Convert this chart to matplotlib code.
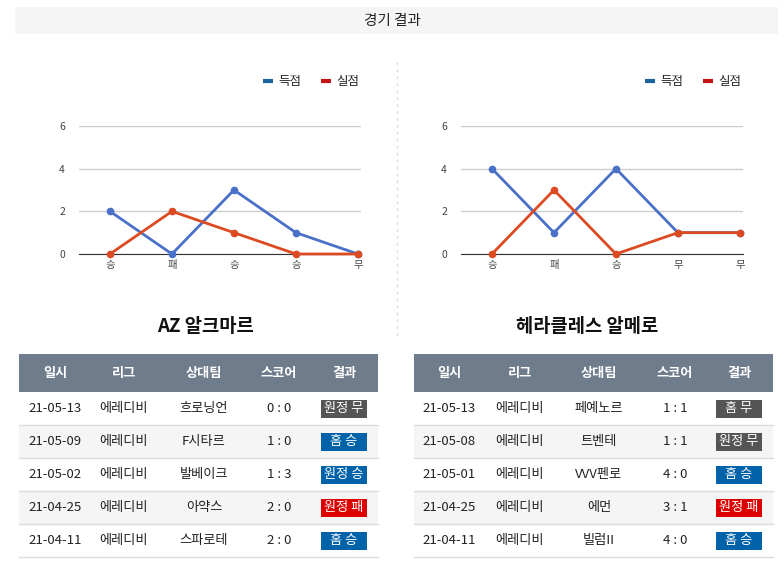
import matplotlib.pyplot as plt
from matplotlib.patches import Rectangle

plt.rcParams["font.family"] = ["Noto Sans CJK KR", "DejaVu Sans"]

W, H = 784, 571

SERIES_NAMES = ["득점", "실점"]
LINE_COLORS = ["#4a70c8", "#dc4a22"]
LEGEND_COLORS = ["#1a64a0", "#c41414"]

LEFT_TEAM = "AZ 알크마르"
LEFT_CATS = ["승", "패", "승", "승", "무"]
LEFT_SCORED = [2, 0, 3, 1, 0]
LEFT_CONCEDED = [0, 2, 1, 0, 0]

RIGHT_TEAM = "헤라클레스 알메로"
RIGHT_CATS = ["승", "패", "승", "무", "무"]
RIGHT_SCORED = [4, 1, 4, 1, 1]
RIGHT_CONCEDED = [0, 3, 0, 1, 1]

COLUMNS = ["일시", "리그", "상대팀", "스코어", "결과"]

LEFT_DATES = ["21-05-13", "21-05-09", "21-05-02", "21-04-25", "21-04-11"]
LEFT_LEAGUE = ["에레디비"] * 5
LEFT_OPP = ["흐로닝언", "F시타르", "발베이크", "아약스", "스파로테"]
LEFT_SCORE = ["0 : 0", "1 : 0", "1 : 3", "2 : 0", "2 : 0"]
LEFT_RESULT = ["원정 무", "홈 승", "원정 승", "원정 패", "홈 승"]

RIGHT_DATES = ["21-05-13", "21-05-08", "21-05-01", "21-04-25", "21-04-11"]
RIGHT_LEAGUE = ["에레디비"] * 5
RIGHT_OPP = ["페예노르", "트벤테", "VVV펜로", "에먼", "빌럼II"]
RIGHT_SCORE = ["1 : 1", "1 : 1", "4 : 0", "3 : 1", "4 : 0"]
RIGHT_RESULT = ["홈 무", "원정 무", "홈 승", "원정 패", "홈 승"]

BADGE_COLORS = {"무": "#555555", "승": "#0062a8", "패": "#dd0000"}

fig = plt.figure(figsize=(W / 100, H / 100), dpi=100)
bg = fig.add_axes([0, 0, 1, 1])
bg.set_xlim(0, W)
bg.set_ylim(H, 0)
bg.axis("off")

# title bar
bg.add_patch(Rectangle((15, 7), 763, 27, color="#f5f5f5", lw=0))
bg.text(392, 20.5, "경기 결과", ha="center", va="center", fontsize=10.5, color="#222222")

# divider
bg.plot([397, 397], [62, 337], color="#dddddd", lw=1, ls=(0, (2, 3)))


def line_chart(x0, cats, scored, conceded, legend_x):
    ax = fig.add_axes([x0 / W, 1 - 254 / H, 282 / W, 128 / H])
    xs = list(range(len(cats)))
    for vals, c in zip([scored, conceded], LINE_COLORS):
        ax.plot(xs, vals, color=c, lw=2, marker="o", ms=4.5, clip_on=False, zorder=3)
    ax.set_xlim(-0.5, 4.05)
    ax.set_ylim(0, 6)
    ax.set_yticks([0, 2, 4, 6])
    ax.set_xticks(xs)
    ax.set_xticklabels(cats)
    for s in ["top", "right", "left"]:
        ax.spines[s].set_visible(False)
    ax.spines["bottom"].set_color("#333333")
    ax.grid(axis="y", color="#cccccc", lw=1)
    ax.set_axisbelow(True)
    ax.tick_params(axis="both", length=0, labelsize=7.5, colors="#444444", pad=4)
    ax.tick_params(axis="y", pad=10)
    # legend
    for i, (name, c) in enumerate(zip(SERIES_NAMES, LEGEND_COLORS)):
        lx = legend_x + i * 58
        bg.plot([lx - 5, lx + 5], [81, 81], color=c, lw=3, solid_capstyle="butt")
        bg.text(lx + 10, 81, name, ha="left", va="center", fontsize=9, color="#222222")


line_chart(79, LEFT_CATS, LEFT_SCORED, LEFT_CONCEDED, 268)
line_chart(461, RIGHT_CATS, RIGHT_SCORED, RIGHT_CONCEDED, 650)


def table(x0, x1, centers, team, title_x, dates, league, opp, score, result):
    bg.text(title_x, 326, team, ha="center", va="center", fontsize=13.5,
            fontweight="bold", color="#111111")
    bg.add_patch(Rectangle((x0, 354), x1 - x0, 38, color="#6f7c8c", lw=0))
    for cx, col in zip(centers, COLUMNS):
        bg.text(cx, 372.5, col, ha="center", va="center", fontsize=9.5,
                fontweight="bold", color="white")
    rows = list(zip(dates, league, opp, score, result))
    for r, row in enumerate(rows):
        top = 392 + r * 33
        if r % 2 == 1:
            bg.add_patch(Rectangle((x0, top), x1 - x0, 33, color="#f5f5f5", lw=0))
        bg.plot([x0, x1], [top + 33, top + 33], color="#dcdcdc", lw=1)
        cy = top + 16.5
        for cx, val in zip(centers[:4], row[:4]):
            bg.text(cx, cy, val, ha="center", va="center", fontsize=9.5, color="#222222")
        res = row[4]
        bc = BADGE_COLORS[res[-1]]
        bg.add_patch(Rectangle((centers[4] - 23, cy - 9), 46, 18, color=bc, lw=0))
        bg.text(centers[4], cy, res, ha="center", va="center", fontsize=9.5, color="white")


table(19, 378, [55, 124, 204, 279, 344], LEFT_TEAM, 205,
      LEFT_DATES, LEFT_LEAGUE, LEFT_OPP, LEFT_SCORE, LEFT_RESULT)
table(414, 773, [449, 520, 599, 675, 739], RIGHT_TEAM, 587,
      RIGHT_DATES, RIGHT_LEAGUE, RIGHT_OPP, RIGHT_SCORE, RIGHT_RESULT)

fig.savefig("out.png", dpi=100)
